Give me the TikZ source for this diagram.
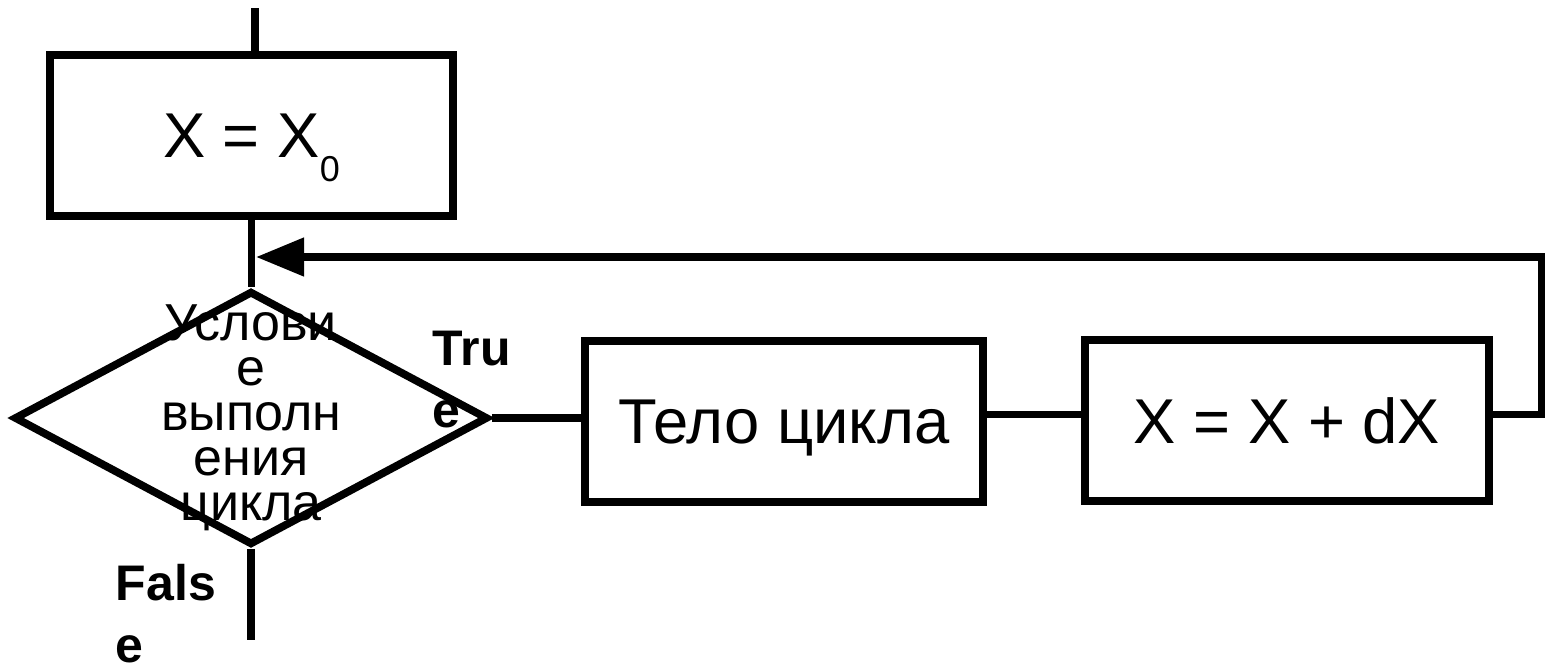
\documentclass[tikz,border=0pt]{standalone}
\usepackage{fontspec}
\setmainfont{Liberation Sans}
\usetikzlibrary{arrows.meta,shapes.geometric}
\begin{document}
\begin{tikzpicture}[x=0.75pt,y=-0.75pt,
  line width=5.8pt,
  box/.style={draw,line width=5.8pt,minimum width=#1,minimum height=120.75pt,inner sep=0pt,text depth=0pt,font=\fontsize{47.5}{55}\selectfont},
  lbl/.style={font=\fontsize{37.5}{46.5}\selectfont\bfseries,align=left,anchor=base west,inner sep=0pt},
  cond/.style={draw,diamond,line width=5.8pt,minimum width=355.5pt,minimum height=190.5pt,inner sep=0pt},
  condtext/.style={font=\fontsize{39}{33.75}\selectfont,align=center,anchor=base,inner sep=0pt}
]
\useasboundingbox (0,0) rectangle (1545,665);
% nodes
\node[box=302.25pt] (b1) at (251.5,135.5) {X = X\raisebox{-18pt}[0pt][0pt]{\fontsize{27}{27}\selectfont 0}};
\node[cond] (cond) at (251,418) {};
\node[condtext] (ctext) at (251,520) {Услови\\е\\выполн\\ения\\цикла};
\node[box=298.1pt] (b2) at (784,421.5) {Тело цикла};
\node[box=302.6pt] (b3) at (1287,420.5) {X = X + dX};
\node[lbl] (ltrue) at (429,427) {Tru\\e};
\node[lbl] (lfalse) at (112,662) {Fals\\e};
% helper coordinates
\coordinate (top) at (255,8);
\coordinate (ly) at (0,414.5);
\coordinate (rt) at (1542,414.5);
\coordinate (rtop) at (1542,257);
\coordinate (tip) at (256,257);
\coordinate (fend) at (254,640);
% connectors
\draw (top) -- (top |- b1.north);
\draw (b1.south) -- (b1.south |- cond.north);
\draw (cond.east) -- (cond.east -| b2.west);
\draw (b2.east |- ly) -- (b3.west |- ly);
\draw[-{Triangle[length=36pt,width=27.75pt]}] (b3.east |- ly) -- (rt) -- (rtop) -- (tip);
\draw (cond.south) -- (cond.south |- fend);
\end{tikzpicture}
\end{document}
